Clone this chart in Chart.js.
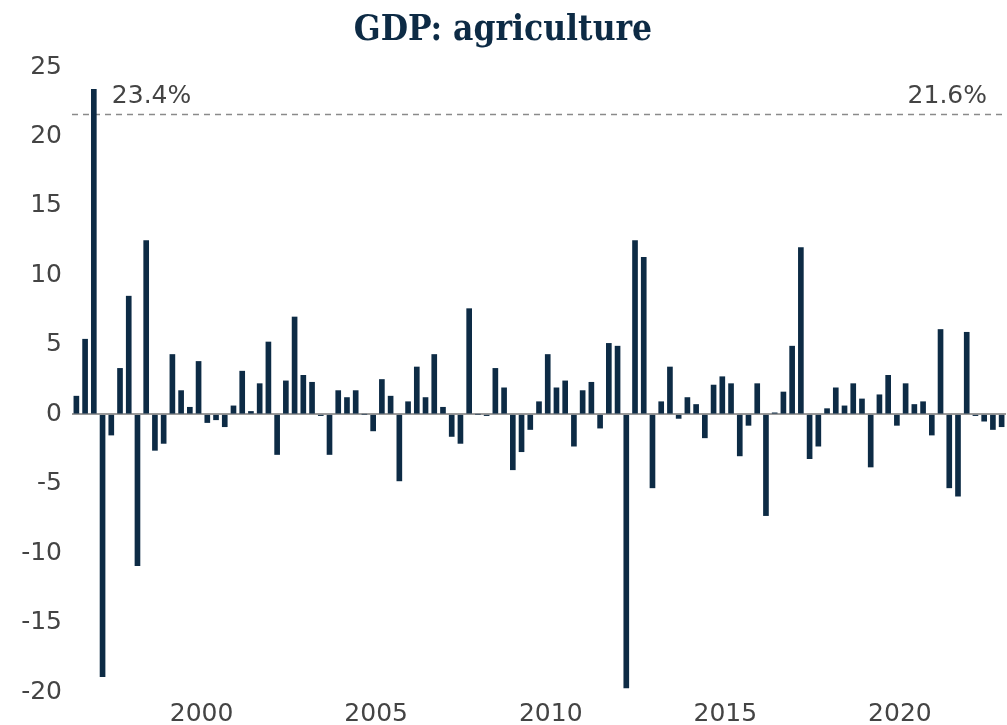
<!DOCTYPE html>
<html>
<head>
<meta charset="utf-8">
<script src="https://cdn.jsdelivr.net/npm/chart.js@4.4.1/dist/chart.umd.min.js"></script>
<style>
  html, body { margin: 0; padding: 0; background: #ffffff; }
  #wrap { width: 1007px; height: 725px; position: relative; }
</style>
</head>
<body>
<div id="wrap"><canvas id="c"></canvas></div>
<script>
// ---- data ----
const chartTitle = "GDP: agriculture";
const startYear = 1996;
const startQuarter = 3;
const growthValues = [
  1.3, 5.4,
  23.4, -18.9, -1.5, 3.3,
  8.5, -10.9, 12.5, -2.6,
  -2.1, 4.3, 1.7, 0.5,
  3.8, -0.6, -0.4, -0.9,
  0.6, 3.1, 0.2, 2.2,
  5.2, -2.9, 2.4, 7.0,
  2.8, 2.3, -0.1, -2.9,
  1.7, 1.2, 1.7, 0.0,
  -1.2, 2.5, 1.3, -4.8,
  0.9, 3.4, 1.2, 4.3,
  0.5, -1.6, -2.1, 7.6,
  0.0, -0.1, 3.3, 1.9,
  -4.0, -2.7, -1.1, 0.9,
  4.3, 1.9, 2.4, -2.3,
  1.7, 2.3, -1.0, 5.1,
  4.9, -19.7, 12.5, 11.3,
  -5.3, 0.9, 3.4, -0.3,
  1.2, 0.7, -1.7, 2.1,
  2.7, 2.2, -3.0, -0.8,
  2.2, -7.3, 0.1, 1.6,
  4.9, 12.0, -3.2, -2.3,
  0.4, 1.9, 0.6, 2.2,
  1.1, -3.8, 1.4, 2.8,
  -0.8, 2.2, 0.7, 0.9,
  -1.5, 6.1, -5.3, -5.9,
  5.9, -0.1, -0.5, -1.1,
  -0.9
];
const yTickValues = [-20, -15, -10, -5, 0, 5, 10, 15, 20, 25];
const xTickYears = [2000, 2005, 2010, 2015, 2020];
const refLineValue = 21.6;
const refLabels = ["23.4%", "21.6%"];
const peakIndex = 2; // bar labelled with the first reference text

// quarterly category labels built from start point
const quarterLabels = growthValues.map((v, i) => {
  const q0 = (startQuarter - 1) + i;
  const y = startYear + Math.floor(q0 / 4);
  const q = (q0 % 4) + 1;
  return y + " Q" + q;
});

const navy = "#0d2b45";
const tickFont = { family: "'DejaVu Sans', sans-serif", size: 25, lineHeight: 1.0 };

const refLinePlugin = {
  id: 'refLine',
  beforeDatasetsDraw(chart) {
    const { ctx, chartArea, scales } = chart;
    const y = Math.round(scales.y.getPixelForValue(refLineValue)) + 0.5;
    ctx.save();
    ctx.strokeStyle = '#8a8a8a';
    ctx.lineWidth = 1.5;
    ctx.setLineDash([6, 5]);
    ctx.beginPath();
    ctx.moveTo(chartArea.left, y);
    ctx.lineTo(chartArea.right, y);
    ctx.stroke();
    ctx.restore();
  },
  afterDatasetsDraw(chart) {
    const { ctx, chartArea, scales } = chart;
    const y = scales.y.getPixelForValue(refLineValue);
    const xPeak = scales.x.getPixelForValue(peakIndex);
    ctx.save();
    ctx.font = "25px 'DejaVu Sans', sans-serif";
    ctx.fillStyle = '#444444';
    ctx.textBaseline = 'alphabetic';
    ctx.textAlign = 'left';
    ctx.fillText(refLabels[0], xPeak + 18, y - 11);
    ctx.textAlign = 'right';
    ctx.fillText(refLabels[1], chartArea.right - 19, y - 11);
    ctx.restore();
  }
};

new Chart(document.getElementById('c'), {
  type: 'bar',
  data: {
    labels: quarterLabels,
    datasets: [{
      data: growthValues,
      backgroundColor: navy,
      borderWidth: 0,
      barThickness: 5
    }]
  },
  options: {
    responsive: true,
    maintainAspectRatio: false,
    animation: false,
    layout: { padding: { left: 0, right: 1, top: 0, bottom: 0 } },
    plugins: {
      legend: { display: false },
      tooltip: { enabled: false },
      title: {
        display: true,
        text: chartTitle,
        color: navy,
        font: { family: "'DejaVu Serif Condensed', 'Liberation Serif', serif", size: 35, weight: 'bold', lineHeight: 1.2 },
        padding: { top: 10, bottom: 15 }
      }
    },
    scales: {
      x: {
        type: 'category',
        offset: true,
        grid: { display: false, drawTicks: false },
        border: { display: false },
        afterFit: (scale) => { scale.height = 33; scale.paddingRight = 0; scale.paddingLeft = 0; },
        ticks: {
          autoSkip: false,
          maxRotation: 0,
          minRotation: 0,
          padding: 10,
          labelOffset: 3,
          color: '#444444',
          font: tickFont,
          callback: function (val, idx) {
            const lab = quarterLabels[idx];
            const yr = parseInt(lab.slice(0, 4), 10);
            return (lab.endsWith('Q1') && xTickYears.includes(yr)) ? String(yr) : '';
          }
        }
      },
      y: {
        min: -20,
        max: 25,
        afterBuildTicks: (scale) => { scale.ticks = yTickValues.map(v => ({ value: v })); },
        afterFit: (scale) => { scale.width = 72; },
        grid: {
          drawTicks: false,
          color: (ctx) => (ctx.tick && ctx.tick.value === 0) ? '#9a9a9a' : 'rgba(0,0,0,0)',
          lineWidth: (ctx) => (ctx.tick && ctx.tick.value === 0) ? 2 : 0
        },
        border: { display: false },
        ticks: {
          padding: 10,
          color: '#444444',
          font: tickFont
        }
      }
    }
  },
  plugins: [refLinePlugin]
});
</script>
</body>
</html>
